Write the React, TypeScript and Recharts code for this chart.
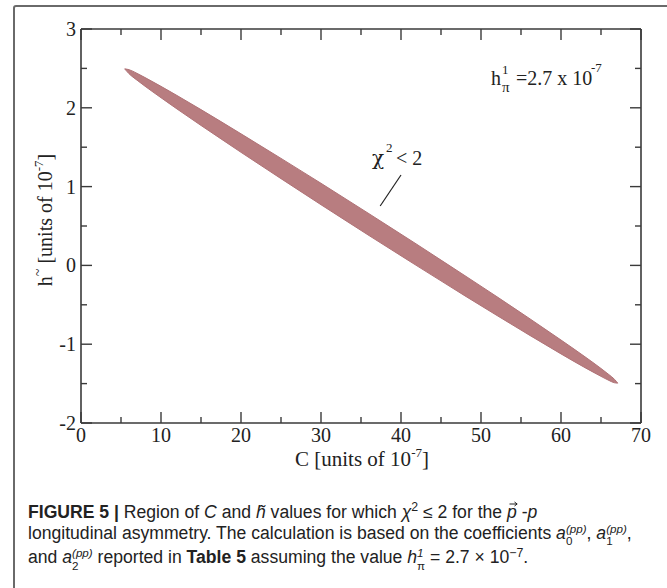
import React from 'react';
import { ComposedChart, Area, XAxis, YAxis, ReferenceLine } from 'recharts';

// Outline of the chi^2 < 2 region (C, lower h, upper h)
const cValues = [5.46, 6, 7, 8, 10, 12, 15, 20, 25, 30, 36, 42, 48, 52, 56, 60, 63, 65, 66, 66.7, 67.09];
const hLower = [2.494, 2.433, 2.351, 2.274, 2.128, 1.985, 1.776, 1.435, 1.101, 0.77, 0.379, -0.006, -0.387, -0.636, -0.882, -1.123, -1.298, -1.408, -1.46, -1.49, -1.494];
const hUpper = [2.494, 2.484, 2.437, 2.384, 2.272, 2.156, 1.977, 1.67, 1.358, 1.042, 0.656, 0.266, -0.131, -0.398, -0.67, -0.947, -1.16, -1.308, -1.387, -1.447, -1.494];

const xTicks = [0, 5, 10, 15, 20, 25, 30, 35, 40, 45, 50, 55, 60, 65, 70];
const xLabels = [0, 10, 20, 30, 40, 50, 60, 70];
const yTicks = [-2, -1.5, -1, -0.5, 0, 0.5, 1, 1.5, 2, 2.5, 3];
const yLabels = [-2, -1, 0, 1, 2, 3];

const pointer = [
  { x: 40, y: 1.147 },
  { x: 37.4, y: 0.754 },
];

const data = cValues.map((c, i) => ({ c, range: [hLower[i], hUpper[i]] }));

const SERIF = '"Liberation Serif", "Times New Roman", serif';
const FRAME = '#3a3a3a';
const MAJOR = 11;
const MINOR = 6;

const BottomTick = (p: any) => {
  const { x, y, payload } = p;
  const v = payload.value;
  const major = xLabels.includes(v);
  return (
    <g>
      <line x1={x} x2={x} y1={y} y2={y - (major ? MAJOR : MINOR)} stroke={FRAME} strokeWidth={1.4} />
      {major && (
        <text x={x} y={y + 19} textAnchor="middle" fontFamily={SERIF} fontSize={20} fill="#222">
          {v}
        </text>
      )}
    </g>
  );
};

const TopTick = (p: any) => {
  const { x, y, payload } = p;
  const major = xLabels.includes(payload.value);
  return <line x1={x} x2={x} y1={y} y2={y + (major ? MAJOR : MINOR)} stroke={FRAME} strokeWidth={1.4} />;
};

const LeftTick = (p: any) => {
  const { x, y, payload } = p;
  const v = payload.value;
  const major = yLabels.includes(v);
  return (
    <g>
      <line x1={x} x2={x + (major ? MAJOR : MINOR)} y1={y} y2={y} stroke={FRAME} strokeWidth={1.4} />
      {major && (
        <text x={x - 5} y={y + 7} textAnchor="end" fontFamily={SERIF} fontSize={20} fill="#222">
          {v}
        </text>
      )}
    </g>
  );
};

const RightTick = (p: any) => {
  const { x, y, payload } = p;
  const major = yLabels.includes(payload.value);
  return <line x1={x} x2={x - (major ? MAJOR : MINOR)} y1={y} y2={y} stroke={FRAME} strokeWidth={1.4} />;
};

const SupSub = ({ sup, sub }: { sup: string; sub: string }) => (
  <span
    style={{
      display: 'inline-block',
      verticalAlign: '-0.5em',
      fontSize: '0.66em',
      lineHeight: 1.05,
      textAlign: 'left',
    }}
  >
    <span style={{ display: 'block', fontStyle: 'italic' }}>{sup}</span>
    <span style={{ display: 'block' }}>{sub}</span>
  </span>
);

const VecP = () => (
  <span style={{ position: 'relative', display: 'inline-block', fontStyle: 'italic' }}>
    p
    <svg
      width={9}
      height={6}
      viewBox="0 0 9 6"
      style={{ position: 'absolute', left: 2, top: -1, overflow: 'visible' }}
    >
      <path d="M0.5 3 H8 M5.5 1 L8.2 3 L5.5 5" stroke="#222" strokeWidth={1} fill="none" />
    </svg>
  </span>
);

export default function App() {
  const W = 667;
  const H = 470;
  return (
    <div
      style={{
        position: 'absolute',
        left: 0,
        top: 0,
        width: 667,
        height: 588,
        overflow: 'hidden',
        background: '#fff',
      }}
    >
      <div
        style={{
          position: 'absolute',
          left: 13,
          top: 5,
          width: 800,
          height: 800,
          border: '2px solid #6a6a6a',
          borderRadius: 3,
        }}
      />
      <div style={{ position: 'absolute', left: 0, top: 0 }}>
        <ComposedChart width={W} height={H} data={data} margin={{ top: 28, right: 25, bottom: H - 424, left: 80 }}>
          <XAxis
            xAxisId="b"
            type="number"
            dataKey="c"
            domain={[0, 70]}
            ticks={xTicks}
            interval={0}
            height={1}
            tickSize={0}
            tickMargin={0}
            tickLine={false}
            axisLine={{ stroke: FRAME, strokeWidth: 1.6 }}
            tick={<BottomTick />}
            allowDataOverflow
          />
          <XAxis
            xAxisId="t"
            orientation="top"
            type="number"
            dataKey="c"
            domain={[0, 70]}
            ticks={xTicks}
            interval={0}
            height={1}
            tickSize={0}
            tickMargin={0}
            tickLine={false}
            axisLine={{ stroke: FRAME, strokeWidth: 1.6 }}
            tick={<TopTick />}
            allowDataOverflow
          />
          <YAxis
            yAxisId="l"
            type="number"
            domain={[-2, 3]}
            ticks={yTicks}
            interval={0}
            width={1}
            tickSize={0}
            tickMargin={0}
            tickLine={false}
            axisLine={{ stroke: FRAME, strokeWidth: 1.6 }}
            tick={<LeftTick />}
            allowDataOverflow
          />
          <YAxis
            yAxisId="r"
            orientation="right"
            type="number"
            domain={[-2, 3]}
            ticks={yTicks}
            interval={0}
            width={1}
            tickSize={0}
            tickMargin={0}
            tickLine={false}
            axisLine={{ stroke: FRAME, strokeWidth: 1.6 }}
            tick={<RightTick />}
            allowDataOverflow
          />
          <Area
            xAxisId="b"
            yAxisId="l"
            dataKey="range"
            type="monotone"
            fill="#b87d80"
            fillOpacity={1}
            stroke="#b07377"
            strokeWidth={1}
            isAnimationActive={false}
            dot={false}
            activeDot={false}
          />
          <ReferenceLine xAxisId="b" yAxisId="l" segment={pointer} stroke="#222" strokeWidth={1.2} ifOverflow="visible" />
        </ComposedChart>
      </div>
      <svg width={667} height={475} style={{ position: 'absolute', left: 0, top: 0, pointerEvents: 'none' }}>
        <g fontFamily={SERIF} fill="#222">
          <text x={491} y={85} fontSize={20}>h</text>
          <text x={502} y={74} fontSize={13}>1</text>
          <text x={502} y={92} fontSize={15}>π</text>
          <text x={516} y={85} fontSize={20}>=2.7 x 10</text>
          <text x={591} y={72} fontSize={13}>-7</text>

          <text x={372} y={165} fontSize={20} fontFamily='"DejaVu Serif", serif'>χ</text>
          <text x={386} y={152} fontSize={13}>2</text>
          <text x={396} y={165} fontSize={20}>&lt; 2</text>

          <text x={362} y={466} fontSize={21} textAnchor="middle">
            C [units of 10<tspan dy={-9} fontSize={13}>-7</tspan>
            <tspan dy={9}>]</tspan>
          </text>

          <text x={52} y={220} fontSize={20} textAnchor="middle" transform="rotate(-90 52 220)">
            h<tspan dy={-9} fontSize={14}>~</tspan>
            <tspan dy={9}> [units of 10</tspan>
            <tspan dy={-9} fontSize={13}>-7</tspan>
            <tspan dy={9}>]</tspan>
          </text>
        </g>
      </svg>
      <div
        style={{
          position: 'absolute',
          left: 28,
          top: 502,
          fontFamily: '"Liberation Sans", Arial, sans-serif',
          fontSize: 17.6,
          lineHeight: '21px',
          color: '#222',
          whiteSpace: 'nowrap',
        }}
      >
        <div>
          <b>FIGURE 5 |</b> Region of <i>C</i> and <i>h̃</i> values for which <i>χ</i>
          <sup style={{ fontSize: '0.7em', lineHeight: 0 }}>2</sup> ≤ 2 for the <VecP /> -<i>p</i>
        </div>
        <div>
          longitudinal asymmetry. The calculation is based on the coefficients <i>a</i>
          <SupSub sup="(pp)" sub="0" />, <i>a</i>
          <SupSub sup="(pp)" sub="1" />,
        </div>
        <div>
          and <i>a</i>
          <SupSub sup="(pp)" sub="2" /> reported in <b>Table 5</b> assuming the value <i>h</i>
          <SupSub sup="1" sub="π" /> = 2.7 × 10<sup style={{ fontSize: '0.7em', lineHeight: 0 }}>−7</sup>.
        </div>
      </div>
    </div>
  );
}
